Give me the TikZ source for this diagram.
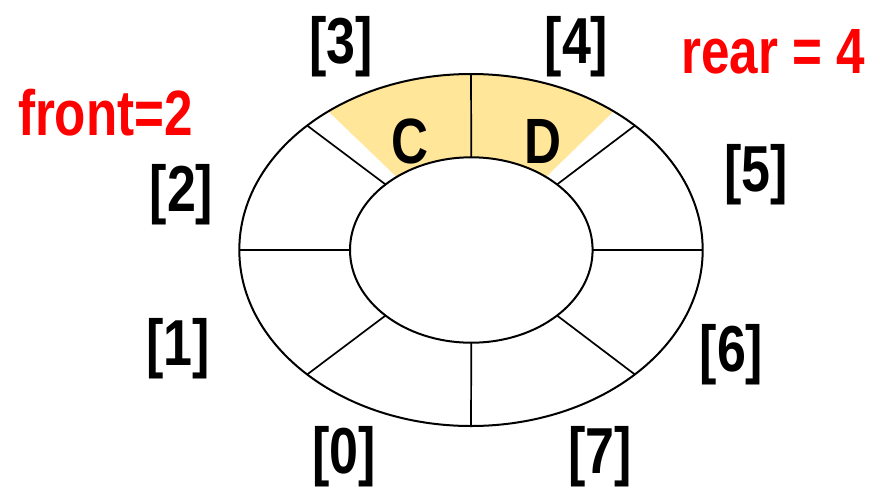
\documentclass[tikz,border=0pt]{standalone}
\usepackage{fontspec}
\newfontface\labfont{Liberation Sans Bold}[FakeStretch=0.8]
\definecolor{qyellow}{RGB}{255,230,153}
\definecolor{qred}{RGB}{255,0,0}
\tikzset{
  idx/.style={anchor=base, inner sep=0pt, font=\labfont\fontsize{65}{70}\selectfont},
  val/.style={anchor=base, inner sep=0pt, font=\labfont\fontsize{64}{70}\selectfont},
  ptr/.style={anchor=base, inner sep=0pt, text=qred, font=\labfont\fontsize{64}{70}\selectfont},
  ring/.style={draw=black, line width=2pt},
  divider/.style={draw=black, line width=1.7pt},
}
\begin{document}
\begin{tikzpicture}[x=1pt,y=-1pt]
\useasboundingbox (0,0) rectangle (870,488);
% shaded cells
\fill[qyellow] plot[domain=128:52, samples=50] ({471+231.7*cos(\x)},{250-176*sin(\x)})
  -- plot[domain=52:128, samples=50] ({471.3+121.3*cos(\x)},{250-92.7*sin(\x)}) -- cycle;
% ring
\draw[ring] (471,250) ellipse [x radius=231.7, y radius=176];
\draw[ring, fill=white] (471.3,250) ellipse [x radius=121.3, y radius=92.7];
% dividers
\foreach \a in {0,45,...,315}{
  \coordinate (in\a) at ({471.3+121.3*cos(\a)},{250-92.7*sin(\a)});
  \coordinate (out\a) at ({471+231.7*cos(\a)},{250-176*sin(\a)});
  \draw[divider] (in\a) -- (out\a);
}
% values
\node[val] (vC) at (410,163) {C};
\node[val] (vD) at (543,163) {D};
% indices
\node[idx] (i3) at (341,63) {[3]};
\node[idx] (i4) at (576.5,63) {[4]};
\node[idx] (i2) at (181.5,211) {[2]};
\node[idx] (i5) at (756,191) {[5]};
\node[idx] (i1) at (178,365) {[1]};
\node[idx] (i6) at (731.5,371) {[6]};
\node[idx] (i0) at (344,473) {[0]};
\node[idx] (i7) at (600,473) {[7]};
% pointers
\node[ptr] (front) at (105.5,135) {front=2};
\node[ptr] (rear) at (773,73) {rear = 4};
\end{tikzpicture}
\end{document}
